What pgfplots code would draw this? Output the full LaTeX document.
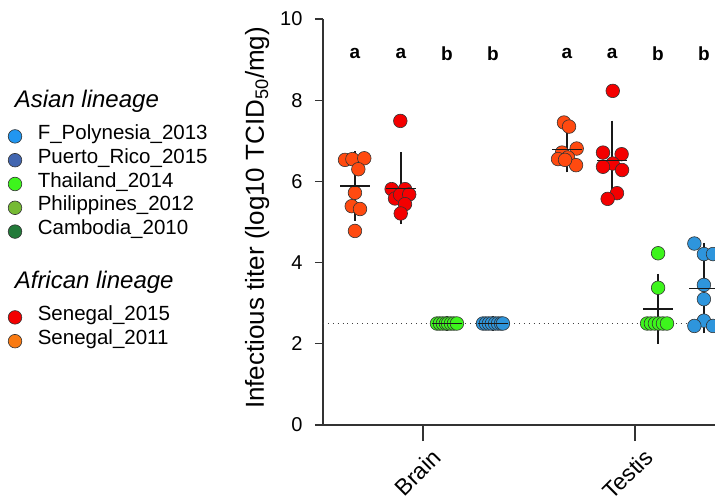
\documentclass[border=0pt]{standalone}
\usepackage{pgfplots}
\pgfplotsset{compat=1.18}
\usepackage{fontspec}
\setmainfont{Liberation Sans}
\definecolor{cS11}{HTML}{FF4A10}
\definecolor{cS11l}{HTML}{F97A12}
\definecolor{cS15}{HTML}{F40000}
\definecolor{cTH}{HTML}{3DF51C}
\definecolor{cFP}{HTML}{2E95DC}
\definecolor{cFPl}{HTML}{2196F0}
\definecolor{cPR}{HTML}{4266B0}
\definecolor{cPH}{HTML}{76BA34}
\definecolor{cCA}{HTML}{237A3A}
\pgfplotsset{pt/.style={only marks, mark=*, mark size=6.8pt, mark options={draw=black!80, line width=0.6pt, fill=#1}}}
\begin{document}
\begin{tikzpicture}
\begin{axis}[
 at={(323pt,-425pt)}, anchor=south west, scale only axis, width=392pt, height=406pt,
 xmin=-0.4717, xmax=1.3774, ymin=0, ymax=10,
 axis lines*=left, axis line style={line width=1.6pt, black!80},
 xtick=\empty,
 extra x ticks={0,1}, extra x tick labels={Brain,Testis},
 extra x tick style={major tick length=16pt},
 ytick={0,2,4,6,8,10},
 tick align=outside, major tick length=8pt, tick style={line width=1.2pt, black!80},
 /pgf/number format/assume math mode=true,
 yticklabel style={font=\fontsize{20}{24}\selectfont, xshift=-9pt},
 xticklabel style={font=\fontsize{23}{26}\selectfont, xshift=16pt, yshift=-10pt, rotate=45, anchor=east},
 ylabel={Infectious titer (log10 TCID\textsubscript{50}/mg)},
 ylabel style={font=\fontsize{26}{30}\selectfont, at={(axis description cs:-0.168,0.51)}, anchor=center},
 clip=false,
 legend style={at={(axis description cs:-0.803,0.819)}, anchor=north west, draw=none, fill=none, inner sep=0pt, outer sep=0pt, font=\fontsize{20.5}{24}\selectfont, column sep=16pt, row sep=0pt, nodes={inner sep=0pt, text height=15pt, text depth=8.8pt}},
 legend cell align=left,
 legend image code/.code={\draw[#1] plot coordinates {(0pt,0pt)};},
]
\addlegendimage{empty legend}\addlegendentry[text depth=17pt]{\hspace*{-23pt}\fontsize{24}{28}\selectfont\itshape Asian lineage}
\addlegendimage{pt=cFPl}\addlegendentry{F\_Polynesia\_2013}
\addlegendimage{pt=cPR}\addlegendentry{Puerto\_Rico\_2015}
\addlegendimage{pt=cTH}\addlegendentry{Thailand\_2014}
\addlegendimage{pt=cPH}\addlegendentry{Philippines\_2012}
\addlegendimage{pt=cCA}\addlegendentry{Cambodia\_2010}
\addlegendimage{empty legend}\addlegendentry[text height=45pt, text depth=17pt]{\hspace*{-23pt}\fontsize{24}{28}\selectfont\itshape African lineage}
\addlegendimage{pt=cS15}\addlegendentry{Senegal\_2015}
\addlegendimage{pt=cS11l}\addlegendentry{Senegal\_2011}

% Brain
\addplot[pt=cS11, forget plot] coordinates {(-0.368,6.53) (-0.333,6.55) (-0.277,6.57) (-0.305,6.30) (-0.321,5.72) (-0.336,5.39) (-0.297,5.32) (-0.321,4.78)};
\addplot[pt=cS15, forget plot] coordinates {(-0.107,7.49) (-0.148,5.81) (-0.085,5.81) (-0.132,5.58) (-0.108,5.67) (-0.065,5.68) (-0.085,5.44) (-0.105,5.21)};
\addplot[pt=cTH, forget plot] coordinates {(0.066,2.5) (0.080,2.5) (0.094,2.5) (0.108,2.5) (0.118,2.5) (0.132,2.5) (0.146,2.5) (0.160,2.5)};
\addplot[pt=cFP, forget plot] coordinates {(0.283,2.5) (0.297,2.5) (0.311,2.5) (0.325,2.5) (0.340,2.5) (0.354,2.5) (0.368,2.5) (0.377,2.5)};
% Testis
\addplot[pt=cS11, forget plot] coordinates {(0.665,7.45) (0.689,7.35) (0.725,6.81) (0.656,6.71) (0.637,6.55) (0.684,6.59) (0.722,6.40) (0.670,6.53)};
\addplot[pt=cS15, forget plot] coordinates {(0.895,8.23) (0.849,6.71) (0.937,6.67) (0.895,6.44) (0.849,6.36) (0.939,6.28) (0.915,5.71) (0.871,5.57)};
\addplot[pt=cTH, forget plot] coordinates {(1.109,4.23) (1.109,3.38) (1.057,2.5) (1.075,2.5) (1.094,2.5) (1.113,2.5) (1.132,2.5) (1.151,2.5)};
\addplot[pt=cFP, forget plot] coordinates {(1.280,4.47) (1.325,4.21) (1.368,4.21) (1.325,3.45) (1.325,3.10) (1.325,2.57) (1.280,2.44) (1.368,2.44)};

% detection limit
\addplot[forget plot, black!75, line width=0.9pt, dash pattern=on 0.9pt off 4pt] coordinates {(-0.4717,2.5) (1.3774,2.5)};

% mean +- SD
\addplot[forget plot, only marks, mark=-, mark size=15pt, mark options={line width=1.3pt, black!90},
  error bars/.cd, y dir=both, y explicit,
  error bar style={line width=1.3pt, black!90},
  error mark options={mark size=7.5pt, line width=1.3pt, black!90}]
 coordinates {
 (-0.321,5.89) +- (0,0.67)
 (-0.104,5.83) +- (0,0.70)
 (0.113,2.5) +- (0,0)
 (0.330,2.5) +- (0,0)
 (0.679,6.79) +- (0,0.38)
 (0.892,6.51) +- (0,0.80)
 (1.108,2.86) +- (0,0.68)
 (1.325,3.37) +- (0,0.93)
 };

\node[font=\bfseries\fontsize{19}{22}\selectfont] at (axis cs:-0.321,9.15) {a};
\node[font=\bfseries\fontsize{19}{22}\selectfont] at (axis cs:-0.104,9.15) {a};
\node[font=\bfseries\fontsize{19}{22}\selectfont] at (axis cs:0.113,9.15) {b};
\node[font=\bfseries\fontsize{19}{22}\selectfont] at (axis cs:0.330,9.15) {b};
\node[font=\bfseries\fontsize{19}{22}\selectfont] at (axis cs:0.679,9.15) {a};
\node[font=\bfseries\fontsize{19}{22}\selectfont] at (axis cs:0.892,9.15) {a};
\node[font=\bfseries\fontsize{19}{22}\selectfont] at (axis cs:1.108,9.15) {b};
\node[font=\bfseries\fontsize{19}{22}\selectfont] at (axis cs:1.325,9.15) {b};
\end{axis}
\pgfresetboundingbox
\useasboundingbox (0pt,0pt) rectangle (715pt,-498pt);
\end{tikzpicture}
\end{document}
